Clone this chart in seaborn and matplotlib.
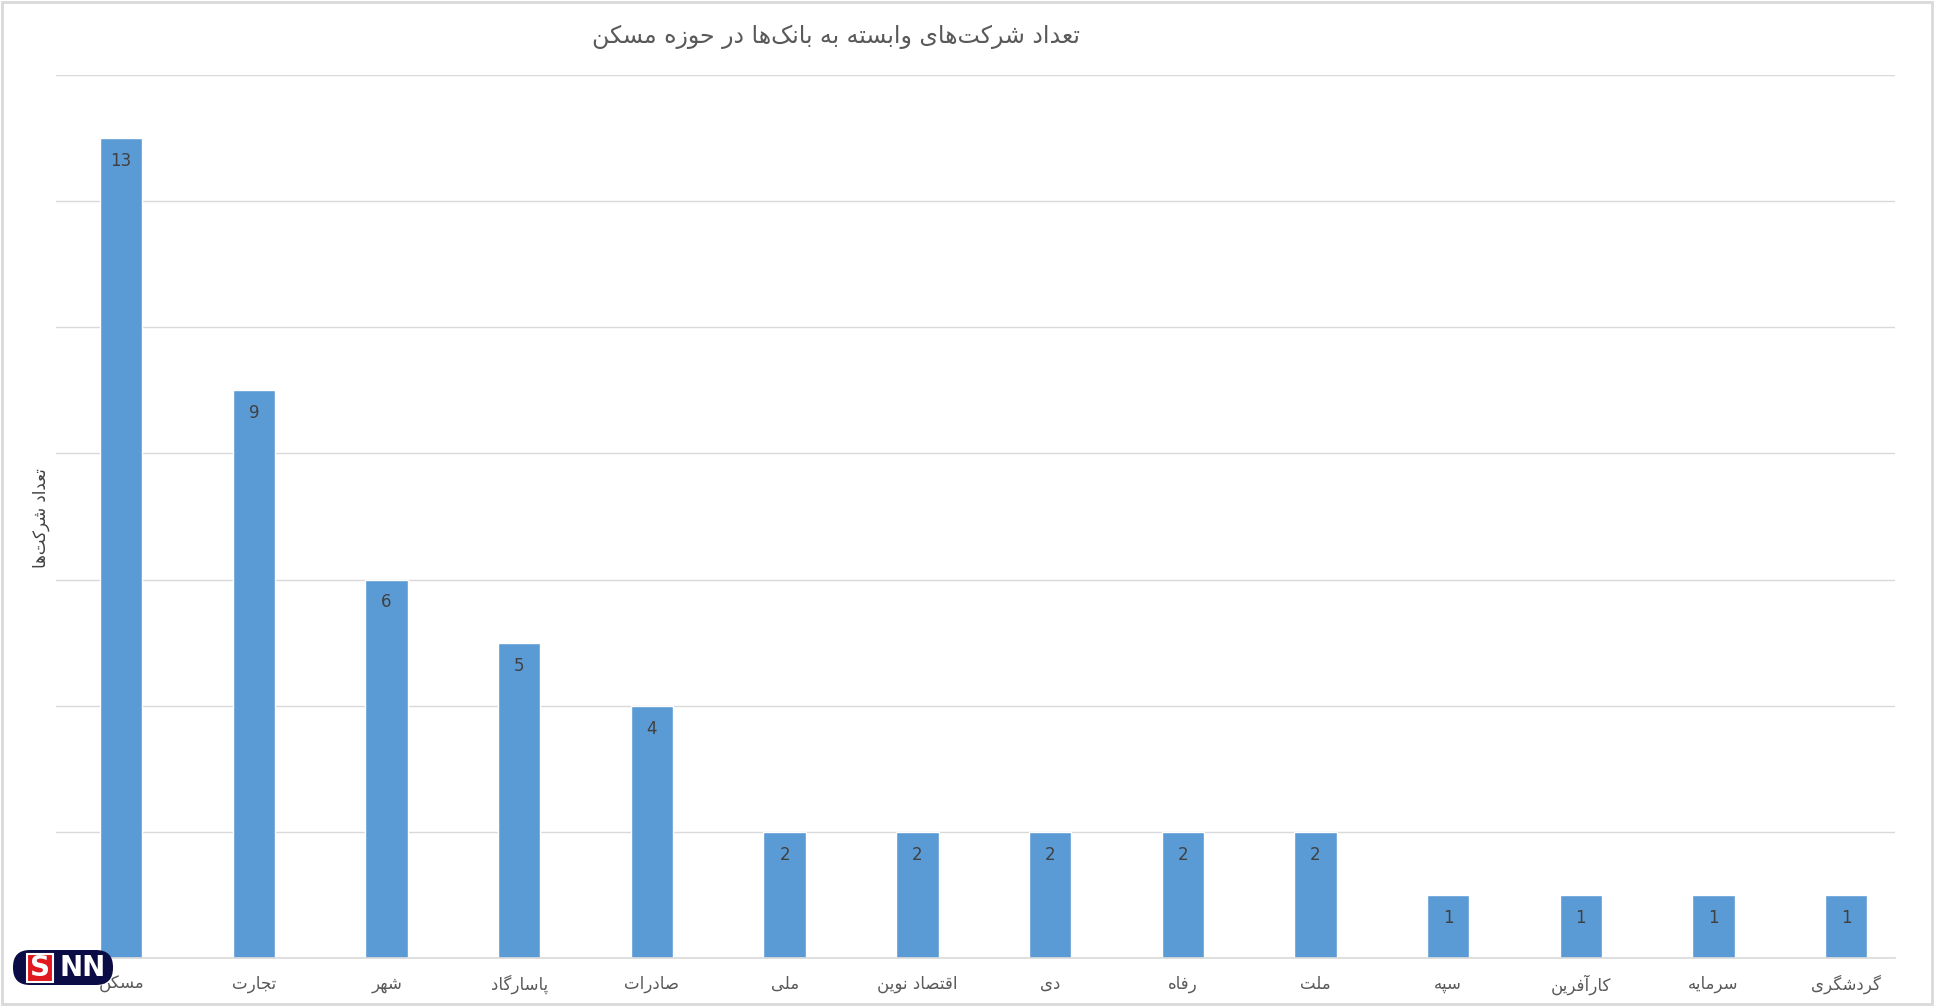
import numpy as np
import pandas as pd
import matplotlib
matplotlib.use("Agg")
import matplotlib.pyplot as plt
import seaborn as sns
from matplotlib.patches import Rectangle, FancyBboxPatch

# ── Data ───────────────────────────────────────────────────
TITLE   = "تعداد شرکت‌های وابسته به بانک‌ها در حوزه مسکن"
Y_LABEL = "تعداد شرکت‌ها"
banks   = ["مسکن", "تجارت", "شهر", "پاسارگاد", "صادرات", "ملی", "اقتصاد نوین",
           "دی", "رفاه", "ملت", "سپه", "کارآفرین", "سرمایه", "گردشگری"]
counts  = [13, 9, 6, 5, 4, 2, 2, 2, 2, 2, 1, 1, 1, 1]

# ── Minimal Persian shaping (matplotlib has no RTL / joining support) ──
# char -> (isolated, final, initial, medial); None = does not join left
FORMS = {
    "ا": ("\uFE8D", "\uFE8E", None, None),
    "آ": ("\uFE81", "\uFE82", None, None),
    "ب": ("\uFE8F", "\uFE90", "\uFE91", "\uFE92"),
    "پ": ("\uFB56", "\uFB57", "\uFB58", "\uFB59"),
    "ت": ("\uFE95", "\uFE96", "\uFE97", "\uFE98"),
    "ج": ("\uFE9D", "\uFE9E", "\uFE9F", "\uFEA0"),
    "ح": ("\uFEA1", "\uFEA2", "\uFEA3", "\uFEA4"),
    "د": ("\uFEA9", "\uFEAA", None, None),
    "ر": ("\uFEAD", "\uFEAE", None, None),
    "ز": ("\uFEAF", "\uFEB0", None, None),
    "س": ("\uFEB1", "\uFEB2", "\uFEB3", "\uFEB4"),
    "ش": ("\uFEB5", "\uFEB6", "\uFEB7", "\uFEB8"),
    "ص": ("\uFEB9", "\uFEBA", "\uFEBB", "\uFEBC"),
    "ع": ("\uFEC9", "\uFECA", "\uFECB", "\uFECC"),
    "ف": ("\uFED1", "\uFED2", "\uFED3", "\uFED4"),
    "ق": ("\uFED5", "\uFED6", "\uFED7", "\uFED8"),
    "ک": ("\uFB8E", "\uFB8F", "\uFB90", "\uFB91"),
    "گ": ("\uFB92", "\uFB93", "\uFB94", "\uFB95"),
    "ل": ("\uFEDD", "\uFEDE", "\uFEDF", "\uFEE0"),
    "م": ("\uFEE1", "\uFEE2", "\uFEE3", "\uFEE4"),
    "ن": ("\uFEE5", "\uFEE6", "\uFEE7", "\uFEE8"),
    "ه": ("\uFEE9", "\uFEEA", "\uFEEB", "\uFEEC"),
    "و": ("\uFEED", "\uFEEE", None, None),
    "ی": ("\uFBFC", "\uFBFD", "\uFBFE", "\uFBFF"),
}


def shape(text):
    out = []
    for i, c in enumerate(text):
        if c == "\u200c":
            continue
        if c not in FORMS:
            out.append(c)
            continue
        prev = text[i - 1] if i > 0 else None
        nxt = text[i + 1] if i + 1 < len(text) else None
        f = FORMS[c]
        join_prev = prev in FORMS and FORMS[prev][2] is not None
        join_next = f[2] is not None and nxt in FORMS
        if join_prev and join_next:
            out.append(f[3])
        elif join_prev:
            out.append(f[1])
        elif join_next:
            out.append(f[2])
        else:
            out.append(f[0])
    return "".join(out)[::-1]


# ── Style ──────────────────────────────────────────────────
sns.set_style("white")
plt.rcParams["font.family"] = ["DejaVu Sans"]

BAR_COLOR  = "#5B9BD5"
TEXT_COLOR = "#595959"
GRID_COLOR = "#D9D9D9"

df = pd.DataFrame({"bank": [shape(b) for b in banks], "count": counts})

fig = plt.figure(figsize=(19.36, 10.06), dpi=100)
ax = fig.add_axes([0.029, 0.0477, 0.950, 0.8777])

sns.barplot(data=df, x="bank", y="count", color=BAR_COLOR, width=0.32,
            saturation=1, ax=ax)

ax.set_xlim(-0.49, len(banks) - 0.63)
ax.set_ylim(0, 14)
ax.set_yticks(np.arange(0, 15, 2))
ax.set_yticklabels([])
ax.tick_params(axis="y", length=0)
ax.tick_params(axis="x", length=0, pad=12, labelsize=12, labelcolor=TEXT_COLOR)
ax.yaxis.grid(True, color=GRID_COLOR, linewidth=1)
ax.set_axisbelow(True)
for side in ["left", "right", "top"]:
    ax.spines[side].set_visible(False)
ax.spines["bottom"].set_color(GRID_COLOR)
ax.spines["bottom"].set_linewidth(1.2)
ax.set_xlabel("")
ax.set_ylabel("")

# value labels inside the top of each bar
for p, v in zip(ax.patches, counts):
    ax.annotate(str(v), (p.get_x() + p.get_width() / 2, p.get_height()),
                xytext=(0, -10), textcoords="offset points",
                ha="center", va="top", fontsize=12, color="#404040")

fig.text(0.432, 0.963, shape(TITLE), ha="center", va="center",
         fontsize=17, color=TEXT_COLOR)
fig.text(0.021, 0.485, shape(Y_LABEL), ha="center", va="center",
         rotation=90, fontsize=12, color="#404040")

# chart border
fig.patches.append(Rectangle((0.001, 0.002), 0.997, 0.996, transform=fig.transFigure,
                             fill=False, edgecolor=GRID_COLOR, linewidth=2))

# SNN watermark (small axes in pixel-like units)
logo = fig.add_axes([13 / 1936, 1 - 985 / 1006, 100 / 1936, 35 / 1006])
logo.set_xlim(0, 100)
logo.set_ylim(0, 35)
logo.axis("off")
logo.add_patch(FancyBboxPatch((0, 0), 100, 35, boxstyle="round,pad=0,rounding_size=17",
                              facecolor="#0B0B45", edgecolor="none"))
logo.add_patch(Rectangle((14, 3), 26, 28, facecolor="#E0191F", edgecolor="white",
                         linewidth=1.5))
logo.text(27, 17, "S", ha="center", va="center", fontsize=20,
          fontweight="bold", color="white")
logo.text(70, 17, "NN", ha="center", va="center", fontsize=20,
          fontweight="bold", color="white")

fig.savefig("out.png", dpi=100)
